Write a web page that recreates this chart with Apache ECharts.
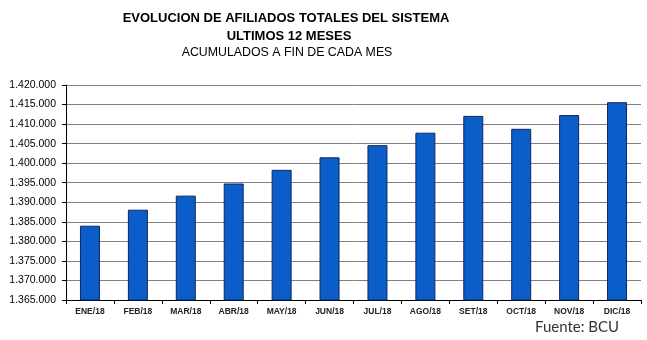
<!DOCTYPE html>
<html><head><meta charset="utf-8">
<script src="https://cdn.jsdelivr.net/npm/echarts@6/dist/echarts.min.js"></script>
<style>html,body{margin:0;padding:0;background:#fff}#c{width:647px;height:340px}</style>
</head><body><div id="c"></div>
<script>
const categories = ['ENE/18','FEB/18','MAR/18','ABR/18','MAY/18','JUN/18','JUL/18','AGO/18','SET/18','OCT/18','NOV/18','DIC/18'];
const afiliados = [1384000,1388100,1391700,1394800,1398300,1401500,1404600,1407800,1412100,1408800,1412300,1415600];
const yMin = 1365000, yMax = 1420000, yStep = 5000;
const titleLines = ['EVOLUCION DE AFILIADOS TOTALES DEL SISTEMA','ULTIMOS 12 MESES','ACUMULADOS A FIN DE CADA MES'];
const sourceText = 'Fuente: BCU';

function fmt(v){ return String(v).replace(/\B(?=(\d{3})+(?!\d))/g,'.'); }

const ff = '"Liberation Sans",Arial,sans-serif';
function titleText(txt, x, y, bold, size, sx){
  return {type:'text', x:x, y:y, scaleX:sx, scaleY:1,
    style:{text:txt, font:(bold?'bold ':'')+size+'px '+ff, fill:'#000', textAlign:'center', textVerticalAlign:'middle'}};
}

const chart = echarts.init(document.getElementById('c'), null, {renderer:'canvas'});
chart.setOption({
  animation:false,
  backgroundColor:'#fff',
  graphic:[
    titleText(titleLines[0], 286, 18, true, 13, 1.0),
    titleText(titleLines[1], 289, 36, true, 13, 1.0),
    titleText(titleLines[2], 287, 52, false, 13.5, 0.915),
    {type:'text', x:535, y:327, style:{text:sourceText, font:'15px Lato, sans-serif', fill:'#333', textVerticalAlign:'middle'}}
  ],
  grid:{left:66, right:6, top:85, bottom:40},
  xAxis:{type:'category', data:categories, boundaryGap:true,
    axisLine:{lineStyle:{color:'#000', width:1}},
    axisTick:{show:true, length:4, lineStyle:{color:'#000'}},
    axisLabel:{margin:7, fontSize:8.5, fontWeight:'bold', color:'#222', fontFamily:ff}},
  yAxis:{type:'value', min:yMin, max:yMax, interval:yStep,
    axisLine:{show:true, lineStyle:{color:'#000', width:1}},
    axisTick:{show:true, length:4, lineStyle:{color:'#000'}},
    splitLine:{show:true, lineStyle:{color:'#808080', width:1}},
    axisLabel:{formatter:fmt, fontSize:10.5, color:'#000', margin:10, fontFamily:ff}},
  series:[{type:'bar', data:afiliados, barWidth:20,
    itemStyle:{color:'#0b5dc9', borderColor:'#10275a', borderWidth:1}}]
});
</script></body></html>
